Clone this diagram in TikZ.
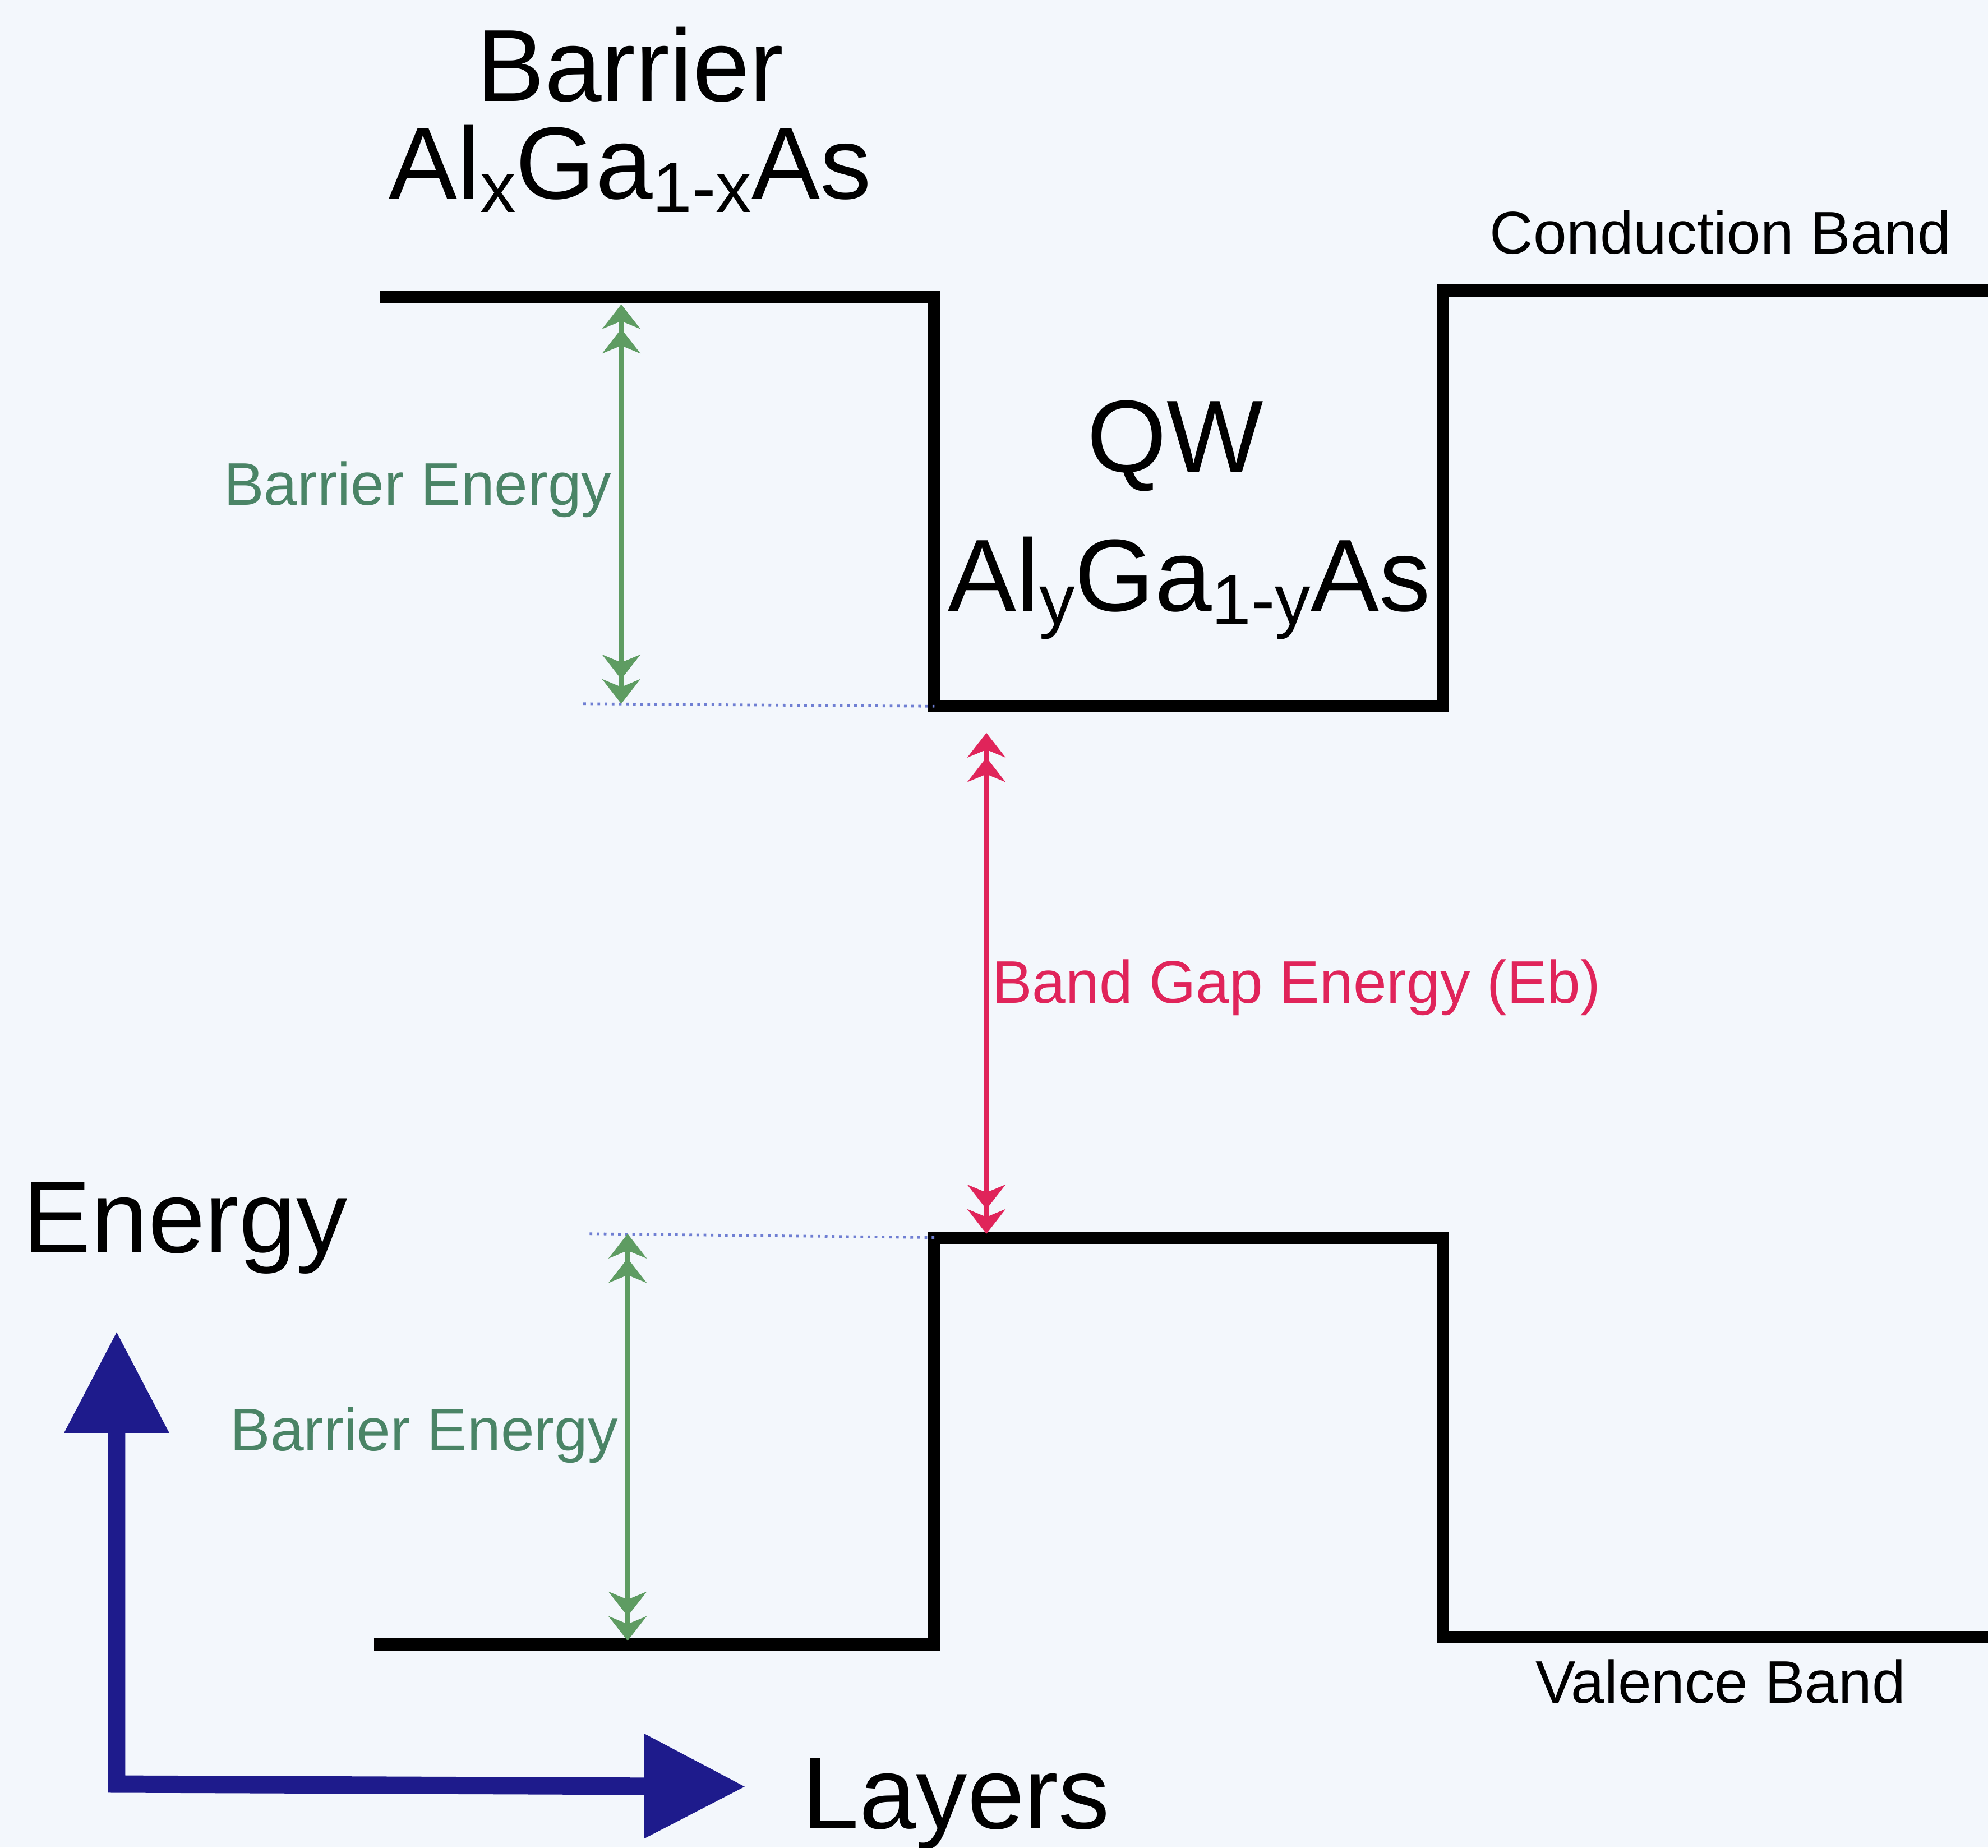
\documentclass[tikz,border=0pt]{standalone}
\usepackage{fontspec}
\setmainfont{Liberation Sans}
\usetikzlibrary{arrows.meta,calc,positioning}
\definecolor{paper}{HTML}{F3F7FC}
\definecolor{navy}{HTML}{1E1B8C}
\definecolor{leaf}{HTML}{5E9C62}
\definecolor{leaftext}{HTML}{4A8466}
\definecolor{crimson}{HTML}{E0245A}
\definecolor{dotblue}{HTML}{6F7FD3}
\newcommand\bigfont{\fontsize{46}{50}\selectfont}
\newcommand\smallfont{\fontsize{27}{30}\selectfont}
\newcommand\lowsub[1]{\raisebox{-6pt}{\fontsize{32}{32}\selectfont #1}}
\tikzset{band/.style={draw=black,line width=5.5pt,line join=miter},
 barrierarrow/.style={{Stealth[length=11pt,width=17pt,inset=3.5pt,sep=0pt]Stealth[length=11pt,width=17pt,inset=3.5pt]}-{Stealth[length=11pt,width=17pt,inset=3.5pt,sep=0pt]Stealth[length=11pt,width=17pt,inset=3.5pt]},draw=leaf,line width=2pt},
 gaparrow/.style={{Stealth[length=11pt,width=17pt,inset=3.5pt,sep=0pt]Stealth[length=11pt,width=17pt,inset=3.5pt]}-{Stealth[length=11pt,width=17pt,inset=3.5pt,sep=0pt]Stealth[length=11pt,width=17pt,inset=3.5pt]},draw=crimson,line width=2.5pt},
 level/.style={draw=dotblue,line width=1.2pt,dotted},
 axisarrow/.style={{Triangle[length=1.6cm,width=1.58cm]}-{Triangle[length=1.6cm,width=1.58cm]},draw=navy,line width=7.8pt,line join=miter}}

\begin{document}
\begin{tikzpicture}[x=.02cm,y=-.02cm]
 \fill[paper] (0,0) rectangle (1568,1457); \useasboundingbox (0,0) rectangle (1568,1457);
 % band edges
 \coordinate (cb1) at (300,234); \coordinate (cb2) at (737,234); \coordinate (cb3) at (737,557); \coordinate (cb4) at (1138,557); \coordinate (cb5) at (1138,229); \coordinate (cb6) at (1568,229);
 \coordinate (vb1) at (295,1297); \coordinate (vb2) at (737,1297); \coordinate (vb3) at (737,976); \coordinate (vb4) at (1138,976); \coordinate (vb5) at (1138,1291); \coordinate (vb6) at (1568,1291);
 \draw[band] (cb1)--(cb2)--(cb3)--(cb4)--(cb5)--(cb6);
 \draw[band] (vb1)--(vb2)--(vb3)--(vb4)--(vb5)--(vb6);
 % offsets
 \coordinate (ta) at (490,240); \coordinate (tb) at (490,555); \coordinate (ba) at (495,973); \coordinate (bb) at (495,1294);
 \coordinate (ga) at (778,578); \coordinate (gb) at (778,973);
 \draw[level] (460,555)--(cb3); \draw[level] (465,973)--(vb3);
 \draw[barrierarrow] (ta)--(tb) node[midway,left=0pt,text=leaftext,font=\smallfont,yshift=6.5pt] (eb1) {Barrier Energy};
 \draw[barrierarrow] (ba)--(bb) node[midway,left=0pt,text=leaftext,font=\smallfont,yshift=1pt] (eb2) {Barrier Energy};
 \draw[gaparrow] (ga)--(gb) node[midway,right=-2pt,text=crimson,font=\smallfont,yshift=-2pt] (eg) {Band Gap Energy (Eb)};
 % labels
 \node[font=\bigfont,anchor=base] (bar) at (497,80) {Barrier};
 \node[font=\bigfont,anchor=base] (barmat) at (497,157) {Al\lowsub{x}Ga\lowsub{1-x}As};
 \node[font=\bigfont,anchor=base] (qw) at (927,372) {QW};
 \node[font=\bigfont,anchor=base] (qwmat) at (938,482) {Al\lowsub{y}Ga\lowsub{1-y}As};
 \node[font=\smallfont,anchor=base] (cb) at (1357,200) {Conduction Band};
 \node[font=\smallfont,anchor=base] (vb) at (1357,1343) {Valence Band};
 \node[font=\bigfont,anchor=base] (en) at (146,988) {Energy};
 \node[font=\bigfont,anchor=base] (ly) at (754,1442) {Layers};
 % axes
 \coordinate (orig) at (92,1407); \coordinate (ytip) at (92,1050); \coordinate (xtip) at (588,1409);
 \draw[axisarrow] (ytip)--(orig)--(xtip);
\end{tikzpicture}
\end{document}
